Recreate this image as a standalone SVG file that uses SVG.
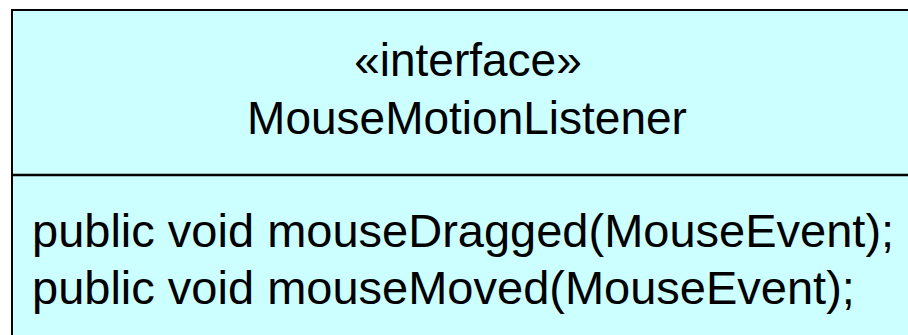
<svg xmlns="http://www.w3.org/2000/svg" width="908" height="335" viewBox="0 0 908 335">
  <style>
    .box { fill: #CCFFFF; stroke: #000000; stroke-width: 2; }
    .rule { stroke: #000000; stroke-width: 2.5; }
    .t { font-family: "Liberation Sans", Arial, sans-serif; font-size: 46px; fill: #000000; }
    .m { font-size: 47px; }
    .c { text-anchor: middle; }
  </style>
  <rect width="908" height="335" fill="#FFFFFF"/>
  <g id="MouseMotionListener">
    <!-- class box runs off the right and bottom edges -->
    <rect class="box" x="12" y="10" width="910" height="340"/>
    <line class="rule" x1="12" y1="175" x2="908" y2="175"/>
    <text class="t c" x="468" y="76">«interface»</text>
    <text class="t c" x="467" y="134">MouseMotionListener</text>
    <text class="t m" x="32" y="247">public void mouseDragged(MouseEvent);</text>
    <text class="t m" x="32" y="304">public void mouseMoved(MouseEvent);</text>
  </g>
  <g id="connectors"/>
</svg>
